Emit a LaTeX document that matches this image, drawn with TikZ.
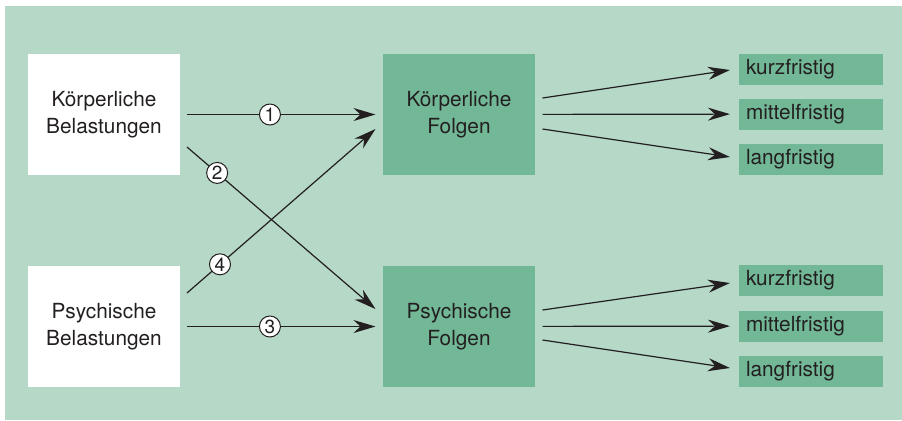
\documentclass[tikz,border=0pt]{standalone}
\usepackage{fontspec}
\setmainfont{TeX Gyre Heros}
\usetikzlibrary{arrows.meta,calc}
\definecolor{bgreen}{RGB}{181,216,199}
\definecolor{fgreen}{RGB}{114,183,150}
\definecolor{ink}{RGB}{35,31,32}

\begin{document}
\begin{tikzpicture}[x=0.5pt, y=-0.5pt,
    every node/.style={text=ink, font=\fontsize{10.4}{13.5}\selectfont},
    load/.style={fill=white, minimum width=76pt, minimum height=60.5pt, inner sep=0pt, align=center, outer xsep=3.5pt},
    result/.style={fill=fgreen, minimum width=76pt, minimum height=60.5pt, inner sep=0pt, align=center, outer xsep=3.75pt},
    term/.style={fill=fgreen, text width=65pt, inner xsep=3.5pt, inner ysep=0pt, minimum height=15.5pt, align=left, outer xsep=4.5pt},
    num/.style={circle, draw=ink, fill=white, inner sep=0pt, minimum size=10.5pt, line width=0.5pt, font=\fontsize{9.5}{9.5}\selectfont},
    link/.style={draw=ink, line width=0.6pt, -{Stealth[length=11pt, width=6.5pt, inset=3.5pt]}}]
            \useasboundingbox (0,0) rectangle (902,420);
            \fill[bgreen] (5,6) rectangle (902,420);

            \node[load] (kb) at (104,114.5) {Körperliche\\Belastungen};
            \node[load] (pb) at (104,326.5) {Psychische\\Belastungen};
            \node[result] (kf) at (459,114.5) {Körperliche\\Folgen};
            \node[result] (pf) at (459,326.5) {Psychische\\Folgen};

            \node[term] (kkurz) at (811,69) {kurzfristig};
            \node[term] (kmittel) at (811,114) {mittelfristig};
            \node[term] (klang) at (811,159) {langfristig};
            \node[term] (pkurz) at (811,280) {kurzfristig};
            \node[term] (pmittel) at (811,326) {mittelfristig};
            \node[term] (plang) at (811,371) {langfristig};

            \draw[link] (kb) -- node[num, pos=0.44] (n1) {1} (kf);
            \draw[link] ($(kb.east)+(0,32.5)$) -- node[num, pos=0.16] (n2) {2} ($(pf.west)+(0,-17.5)$);
            \draw[link] (pb) -- node[num, pos=0.44] (n3) {3} (pf);
            \draw[link] ($(pb.east)+(0,-33.5)$) -- node[num, pos=0.175] (n4) {4} ($(kf.west)+(0,14.5)$);

            \draw[link] ($(kf.east)+(0,-16.5)$) -- ($(kkurz.west)+(0,1)$);
            \draw[link] (kf) -- (kmittel);
            \draw[link] ($(kf.east)+(0,14.5)$) -- ($(klang.west)+(0,-2)$);
            \draw[link] ($(pf.east)+(0,-16.5)$) -- ($(pkurz.west)+(0,3)$);
            \draw[link] (pf) -- (pmittel);
            \draw[link] ($(pf.east)+(0,13.5)$) -- ($(plang.west)+(0,-3)$);
        \end{tikzpicture}
\end{document}
